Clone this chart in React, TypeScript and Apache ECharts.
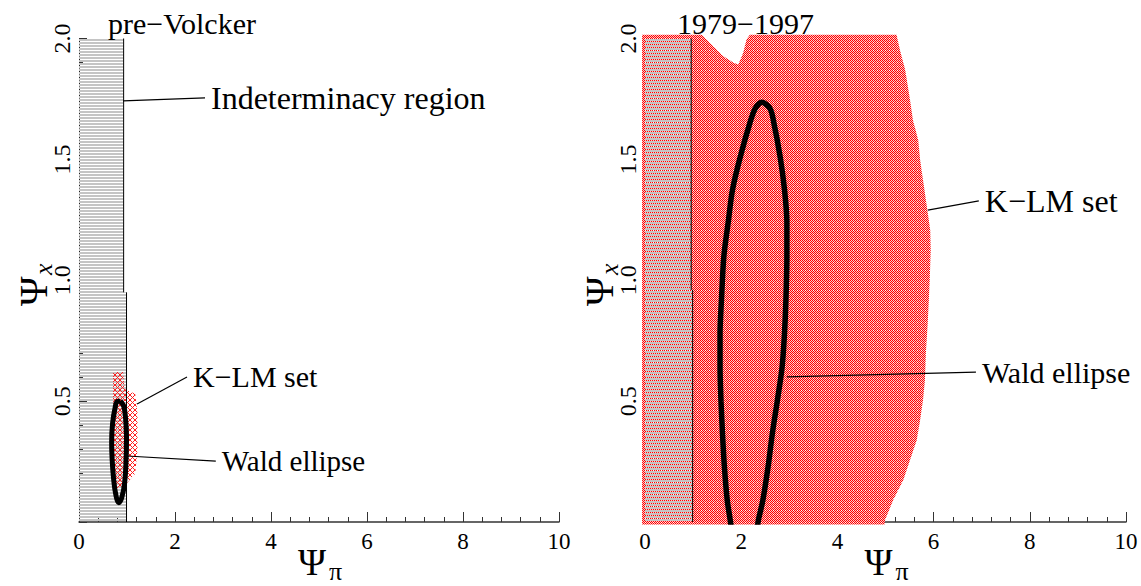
import React, { useEffect, useRef } from 'react';
import * as echarts from 'echarts';

const FONT = 'Liberation Serif, Times New Roman, serif';

// ---- data ----
const panelTitles = ['pre\u2212Volcker', '1979\u22121997'];

// Indeterminacy region (psi_pi < 1)
const leftIndeterminacy = [[0, 0], [0, 2], [0.93, 2], [0.93, 0.95], [0.99, 0.95], [0.99, 0]];
const rightIndeterminacy = [[0, 0], [0, 2], [0.96, 2], [0.96, 0.96], [0.99, 0.96], [0.99, 0]];
const leftBoundaryTop = [[0.93, 2], [0.93, 0.95]];
const leftBoundaryBottom = [[0.99, 0.95], [0.99, 0]];
const rightBoundaryTop = [[0.96, 2], [0.96, 0.96]];
const rightBoundaryBottom = [[0.99, 0.96], [0.99, 0]];

// K-LM confidence sets
const leftKLM = [[0.71, 0.62], [0.92, 0.62], [0.95, 0.55], [1.17, 0.53], [1.22, 0.45], [1.22, 0.3], [1.17, 0.2], [0.95, 0.15], [0.78, 0.14], [0.71, 0.2]];
const rightKLM = [
  [-0.06, -0.01], [-0.06, 2.015], [1.18, 2.015], [1.42, 1.968], [1.63, 1.927], [1.84, 1.9], [1.94, 1.892], [2.04, 1.94], [2.11, 1.996], [2.18, 2.015],
  [5.23, 2.015], [5.3, 1.952], [5.41, 1.87], [5.51, 1.746], [5.57, 1.663], [5.68, 1.58], [5.72, 1.497], [5.78, 1.415], [5.84, 1.332], [5.93, 1.208],
  [5.94, 1.125], [5.92, 1.0], [5.88, 0.83], [5.84, 0.7], [5.82, 0.587], [5.78, 0.505], [5.72, 0.422], [5.65, 0.339], [5.51, 0.256], [5.37, 0.174],
  [5.16, 0.091], [4.99, 0.008], [4.98, -0.01],
];

// Wald ellipses
const leftWald = [[0.86, 0.5], [0.93, 0.48], [0.97, 0.43], [0.99, 0.35], [0.98, 0.25], [0.95, 0.16], [0.89, 0.1], [0.83, 0.08], [0.77, 0.11], [0.72, 0.18], [0.69, 0.26], [0.68, 0.33], [0.7, 0.41], [0.75, 0.47], [0.8, 0.5], [0.86, 0.5]];
const rightWald = [
  [1.8, -0.03], [1.77, 0.01], [1.71, 0.09], [1.65, 0.23], [1.61, 0.37], [1.58, 0.5], [1.56, 0.64], [1.56, 0.78], [1.59, 0.92], [1.64, 1.1], [1.73, 1.24],
  [1.82, 1.375], [1.98, 1.51], [2.18, 1.65], [2.29, 1.71], [2.43, 1.736], [2.6, 1.71], [2.68, 1.65], [2.81, 1.51], [2.9, 1.375], [2.95, 1.24], [2.95, 1.1],
  [2.93, 0.92], [2.9, 0.78], [2.85, 0.64], [2.75, 0.5], [2.65, 0.37], [2.56, 0.23], [2.45, 0.09], [2.36, 0.01], [2.33, -0.03],
];

// annotations
const noteGrid = [0, 0, 0, 1, 1];
const noteText = ['Indeterminacy region', 'K\u2212LM set', 'Wald ellipse', 'K\u2212LM set', 'Wald ellipse'];
const noteSize = [32, 30, 29, 32, 30];
const noteFrom = [[0.917, 1.742], [1.21, 0.488], [1.0, 0.273], [5.88, 1.29], [2.95, 0.6]];
const noteTo = [[2.625, 1.754], [2.25, 0.6], [2.85, 0.252], [6.94, 1.328], [6.88, 0.62]];

function makePattern(w: number, h: number, fn: (x: number, y: number) => string | null) {
  const c = document.createElement('canvas');
  c.width = w;
  c.height = h;
  const ctx = c.getContext('2d')!;
  for (let y = 0; y < h; y++) {
    for (let x = 0; x < w; x++) {
      const col = fn(x, y);
      if (col) {
        ctx.fillStyle = col;
        ctx.fillRect(x, y, 1, 1);
      }
    }
  }
  return { image: c, repeat: 'repeat', imageWidth: w, imageHeight: h } as any;
}

export default function App() {
  const ref = useRef<HTMLDivElement>(null);
  useEffect(() => {
    document.body.style.margin = '0';
    const chart = echarts.init(ref.current!, null, { renderer: 'svg' });

    const redFill = makePattern(4, 4, (x, y) => {
      if ((x + y) % 2 === 1) return x === 1 && y === 2 ? '#ffffff' : '#ffc4c4';
      return '#ff0000';
    });
    const redCross = makePattern(5, 5, (x, y) => (x === y || x === 4 - y ? '#ff2020' : null));
    const greyFill = makePattern(2, 3, (x, y) => (y < 2 ? '#c4c4c4' : null));

    const grids = [
      { left: 79, top: 38.5, width: 480, height: 483.5 },
      { left: 645, top: 38.5, width: 481, height: 483.5 },
    ];

    const xAxis = grids.map((_, i) => ({
      gridIndex: i,
      type: 'value',
      min: 0,
      max: 10,
      interval: 2,
      axisLine: { show: true, onZero: false, lineStyle: { color: '#333', width: 1.5 } },
      axisTick: { show: true, inside: true, length: 10, lineStyle: { color: '#333', width: 1 } },
      minorTick: { show: true, splitNumber: 5, length: 5, lineStyle: { color: '#333', width: 1 } },
      axisLabel: { fontFamily: FONT, fontSize: 23, color: '#000', margin: 8 },
      splitLine: { show: false },
      minorSplitLine: { show: false },
    }));
    const yAxis = grids.map((_, i) => ({
      gridIndex: i,
      type: 'value',
      min: 0,
      max: 2,
      interval: 0.5,
      axisLine: { show: true, onZero: false, lineStyle: { color: '#222', width: 1, type: 'dotted' } },
      axisTick: { show: true, inside: true, length: 8, lineStyle: { color: '#333', width: 1 } },
      minorTick: { show: true, splitNumber: 5, length: 4, lineStyle: { color: '#333', width: 1 } },
      axisLabel: {
        rotate: 90,
        fontFamily: FONT,
        fontSize: 24,
        color: '#000',
        margin: 5,
        formatter: (v: number) => (v === 0 ? '' : v.toFixed(1)),
      },
      splitLine: { show: false },
    }));

    const poly = (g: number, pts: number[][], fill: any, z: number, clip = true) => ({
      type: 'custom',
      xAxisIndex: g,
      yAxisIndex: g,
      z,
      silent: true,
      clip,
      data: [[0, 0]],
      renderItem: (_p: any, api: any) => ({
        type: 'polygon',
        shape: { points: pts.map((p) => api.coord(p)) },
        style: { fill, stroke: null },
      }),
    });
    const line = (g: number, pts: number[][], width: number, z: number, smooth: any = false, clip = true) => ({
      type: 'line',
      xAxisIndex: g,
      yAxisIndex: g,
      z,
      silent: true,
      clip,
      data: pts,
      smooth,
      showSymbol: false,
      symbol: 'none',
      lineStyle: { color: '#000', width },
    });

    const series: any[] = [
      // left panel
      poly(0, leftIndeterminacy, greyFill, 1),
      poly(0, leftKLM, redCross, 2),
      line(0, leftBoundaryTop, 1, 3),
      line(0, leftBoundaryBottom, 1, 3),
      line(0, leftWald, 5, 5, 0.4),
      // right panel
      poly(1, rightKLM, redFill, 1, false),
      poly(1, rightIndeterminacy, greyFill, 2),
      line(1, rightBoundaryTop, 1, 3),
      line(1, rightBoundaryBottom, 1, 3),
      line(1, rightWald, 5.5, 5, 0.3),
    ];
    noteFrom.forEach((f, i) => {
      series.push(line(noteGrid[i], [f, noteTo[i]], 1.2, 4));
    });

    chart.setOption({
      animation: false,
      backgroundColor: '#fff',
      grid: grids,
      xAxis,
      yAxis,
      series,
    });

    const graphics: any[] = [];
    noteTo.forEach((t, i) => {
      const p = chart.convertToPixel({ gridIndex: noteGrid[i] }, t) as number[];
      graphics.push({
        type: 'text',
        x: p[0] + 6,
        y: p[1],
        z: 10,
        style: { text: noteText[i], font: `${noteSize[i]}px ${FONT}`, fill: '#000', textAlign: 'left', textVerticalAlign: 'middle' },
      });
    });
    // panel titles
    const titleX = [108, 677];
    panelTitles.forEach((t, i) => {
      graphics.push({
        type: 'text',
        x: titleX[i],
        y: 23,
        z: 10,
        style: { text: t, font: `30px ${FONT}`, fill: '#000', textAlign: 'left', textVerticalAlign: 'middle' },
      });
    });
    // axis titles
    grids.forEach((g) => {
      const cx = g.left + g.width / 2;
      graphics.push({
        type: 'group',
        x: cx - 21,
        y: 562,
        children: [
          { type: 'text', x: 0, y: 0, style: { text: '\u03A8', font: `38px ${FONT}`, fill: '#000', textAlign: 'left', textVerticalAlign: 'middle' } },
          { type: 'text', x: 31, y: 9, style: { text: '\u03C0', font: `26px ${FONT}`, fill: '#000', textAlign: 'left', textVerticalAlign: 'middle' } },
        ],
      });
      graphics.push({
        type: 'group',
        x: g.left - 46,
        y: 306,
        rotation: Math.PI / 2,
        children: [
          { type: 'text', x: 0, y: 0, style: { text: '\u03A8', font: `40px ${FONT}`, fill: '#000', textAlign: 'left', textVerticalAlign: 'middle' } },
          { type: 'text', x: 31, y: 10, style: { text: 'x', font: `italic 26px ${FONT}`, fill: '#000', textAlign: 'left', textVerticalAlign: 'middle' } },
        ],
      });
    });
    chart.setOption({ graphic: graphics });

    return () => chart.dispose();
  }, []);
  return <div ref={ref} style={{ width: 1141, height: 586 }} />;
}
